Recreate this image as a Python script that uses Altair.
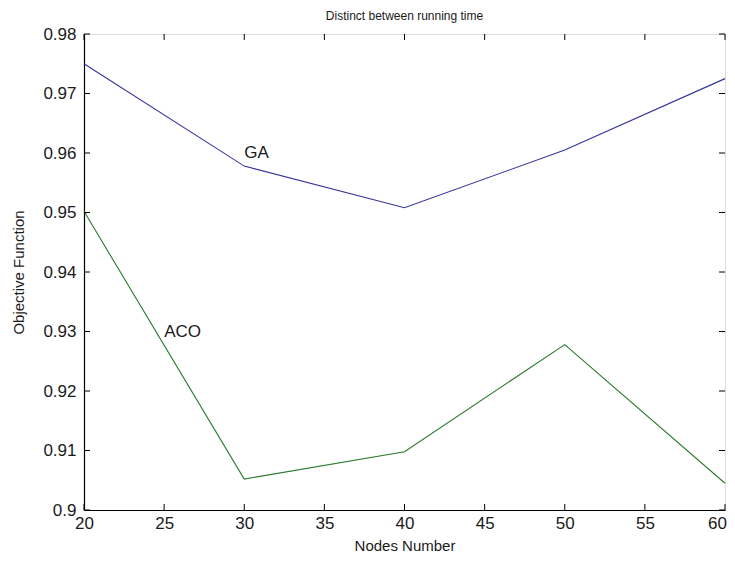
import altair as alt
import pandas as pd

nodes = [20, 30, 40, 50, 60]
ga_values = [0.9750, 0.9578, 0.9508, 0.9605, 0.9725]
aco_values = [0.9502, 0.9052, 0.9098, 0.9278, 0.9045]

x_ticks = [20, 25, 30, 35, 40, 45, 50, 55, 60]
y_ticks = [0.90, 0.91, 0.92, 0.93, 0.94, 0.95, 0.96, 0.97, 0.98]

label_names = ["GA", "ACO"]
label_x = [30, 25]
label_y = [0.960, 0.930]

W, H = 641, 476
FONT = "Liberation Sans"
TXT = "#1a1a1a"

rows = []
for n, g, a in zip(nodes, ga_values, aco_values):
    rows.append({"Nodes": n, "value": g, "series": "GA"})
    rows.append({"Nodes": n, "value": a, "series": "ACO"})
df = pd.DataFrame(rows)
labels_df = pd.DataFrame({"name": label_names, "x": label_x, "y": label_y})
xt_df = pd.DataFrame({"t": x_ticks})
yt_df = pd.DataFrame({"t": y_ticks})

xscale = alt.Scale(domain=[20, 60], nice=False, zero=False)
yscale = alt.Scale(domain=[0.9, 0.98], nice=False, zero=False)

x_axis = alt.Axis(values=x_ticks, title="Nodes Number", grid=False, tickSize=0,
                  labelFont=FONT, labelFontSize=17, labelColor=TXT, labelPadding=5,
                  labelOffset={"condition": {"test": "datum.value == 60", "value": -8}, "value": 0},
                  titleFont=FONT, titleFontSize=15, titleFontWeight="normal", titleColor=TXT,
                  titlePadding=7, domainColor="#000000", domainWidth=1.2, labelFlush=False)
y_axis = alt.Axis(values=y_ticks, title="Objective Function", grid=False, tickSize=0,
                  labelFont=FONT, labelFontSize=17, labelColor=TXT, labelPadding=8,
                  titleFont=FONT, titleFontSize=15, titleFontWeight="normal", titleColor=TXT,
                  titlePadding=16, domainColor="#000000", domainWidth=1.2, labelFlush=False,
                  format=".2~f")

lines = alt.Chart(df).mark_line(strokeWidth=1.1).encode(
    x=alt.X("Nodes:Q", scale=xscale, axis=x_axis),
    y=alt.Y("value:Q", scale=yscale, axis=y_axis),
    color=alt.Color("series:N", scale=alt.Scale(domain=["GA", "ACO"], range=["#34349c", "#2b7a2b"]), legend=None),
)

texts = alt.Chart(labels_df).mark_text(align="left", baseline="middle", font=FONT, fontSize=17, color=TXT).encode(
    x=alt.X("x:Q", scale=xscale),
    y=alt.Y("y:Q", scale=yscale),
    text="name:N",
)

tick_len = 6
xt_bottom = alt.Chart(xt_df).mark_rule(color="#000000", strokeWidth=1).encode(
    x=alt.X("t:Q", scale=xscale), y=alt.value(H), y2=alt.value(H - tick_len))
xt_top = alt.Chart(xt_df).mark_rule(color="#000000", strokeWidth=1).encode(
    x=alt.X("t:Q", scale=xscale), y=alt.value(0), y2=alt.value(tick_len))
yt_left = alt.Chart(yt_df).mark_rule(color="#000000", strokeWidth=1).encode(
    y=alt.Y("t:Q", scale=yscale), x=alt.value(0), x2=alt.value(tick_len))
yt_right = alt.Chart(yt_df).mark_rule(color="#000000", strokeWidth=1).encode(
    y=alt.Y("t:Q", scale=yscale), x=alt.value(W), x2=alt.value(W - tick_len))

chart = alt.layer(lines, texts, xt_bottom, xt_top, yt_left, yt_right).properties(
    width=W, height=H,
    title=alt.TitleParams("Distinct between running time", font=FONT, fontSize=12,
                          fontWeight="normal", color=TXT, offset=2),
    autosize=alt.AutoSizeParams(type="none"),
    padding={"left": 76, "top": 26, "right": 2, "bottom": 44},
).configure_view(stroke="#000000", strokeWidth=1.2).configure(background="#ffffff")

chart.save("out.html", embed_options={"renderer": "svg", "actions": False})
